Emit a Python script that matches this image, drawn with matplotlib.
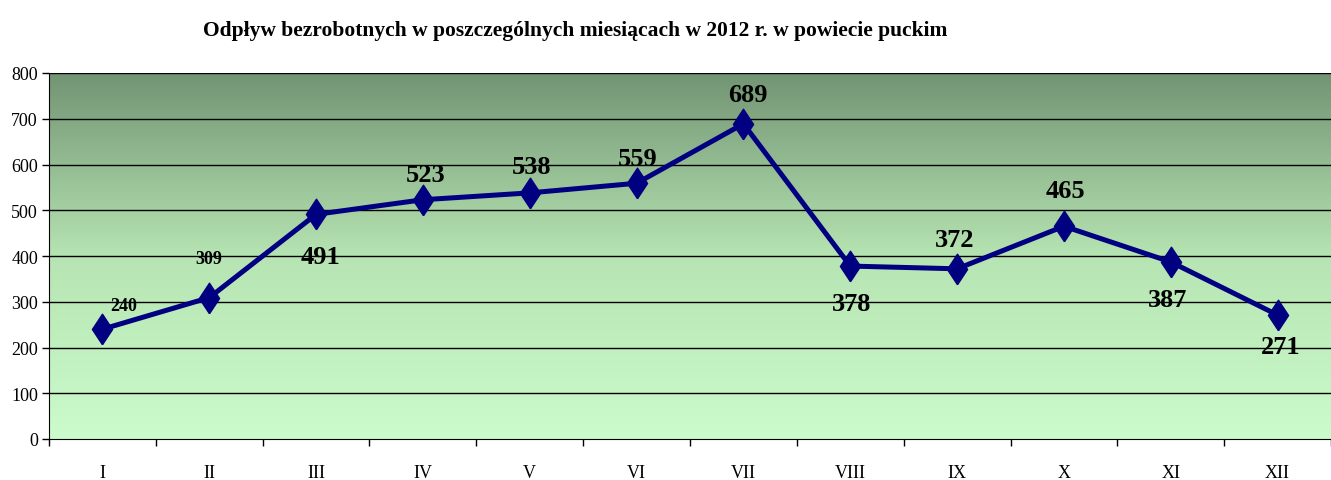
import numpy as np
import matplotlib
matplotlib.use("Agg")
import matplotlib.pyplot as plt
from matplotlib.colors import LinearSegmentedColormap

months = ["I", "II", "III", "IV", "V", "VI", "VII", "VIII", "IX", "X", "XI", "XII"]
values = [240, 309, 491, 523, 538, 559, 689, 378, 372, 465, 387, 271]
yticks = [0, 100, 200, 300, 400, 500, 600, 700, 800]
title = "Odpływ bezrobotnych w poszczególnych miesiącach w 2012 r. w powiecie puckim"

# label placement (offset in points, font size)
label_offsets = [(15, 17), (0, 28), (3, -30), (2, 18), (1, 19), (1, 18), (3, 21),
                 (1, -27), (-2, 21), (1, 26), (-2, -27), (2, -23)]
label_sizes = [13, 13, 19, 19, 19, 19, 19, 19, 19, 19, 19, 19]

plt.rcParams['font.family'] = ['Liberation Serif', 'DejaVu Serif']

fig = plt.figure(figsize=(13.31, 4.81), dpi=100)
ax = fig.add_axes([49/1331, 1 - 440/481, 1 - 49/1331, (440 - 74)/481])

x = np.arange(1, len(months) + 1)
ax.set_xlim(0.5, len(months) + 0.5)
ax.set_ylim(0, 800)

cmap = LinearSegmentedColormap.from_list("g", ["#ccfccc", "#b6e4b2", "#729473"])
grad = np.linspace(0, 1, 256).reshape(-1, 1)
ax.imshow(grad, aspect="auto", cmap=cmap, origin="lower",
          extent=[0.5, len(months) + 0.5, 0, 800], zorder=0)

for yv in yticks[1:]:
    ax.axhline(yv, color="black", lw=1, zorder=1)

diamond = [(0, -1), (0.66, 0), (0, 1), (-0.66, 0), (0, -1)]
ax.plot(x, values, color="#000080", lw=3.6, marker=diamond, markersize=22,
        markerfacecolor="#000080", markeredgecolor="#000080", zorder=3)

for xi, v, (dx, dy), fs in zip(x, values, label_offsets, label_sizes):
    ax.annotate(str(v), (xi, v), xytext=(dx, dy), textcoords="offset points",
                ha="center", va="center", fontsize=fs, fontweight="bold", zorder=4)

ax.set_yticks(yticks)
ax.set_yticklabels([str(t) for t in yticks], fontsize=13)
ax.set_xticks(np.arange(0.5, len(months) + 1, 1))
ax.set_xticklabels([])
ax.set_xticks(x, minor=True)
ax.set_xticklabels(months, minor=True, fontsize=13)
ax.tick_params(axis="x", which="major", length=5, direction="out", width=1)
ax.tick_params(axis="x", which="minor", length=0, pad=18)
ax.tick_params(axis="y", length=5, direction="out", width=1, pad=3)

for s in ["top", "right"]:
    ax.spines[s].set_visible(False)
ax.spines["left"].set_color("black")
ax.spines["bottom"].set_color("black")

fig.text(575/1331, 1 - 31/481, title, ha="center", va="center",
         fontsize=15.5, fontweight="bold")

fig.savefig("out.png", dpi=100)
